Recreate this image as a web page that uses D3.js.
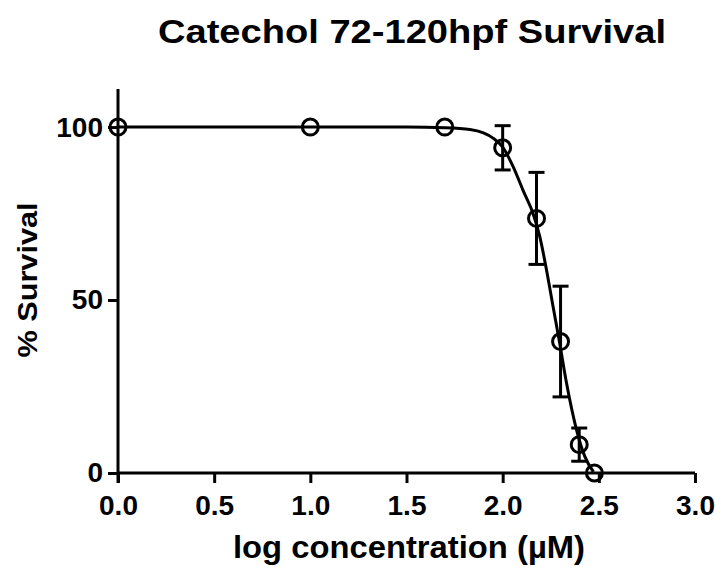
<!DOCTYPE html>
<html>
<head>
<meta charset="utf-8">
<script src="https://cdn.jsdelivr.net/npm/d3@7"></script>
<style>
  body { margin: 0; background: #fff; }
  text { font-family: "Liberation Sans", Arial, sans-serif; font-weight: bold; fill: #000; }
</style>
</head>
<body>
<div id="chart"></div>
<script>
// measured points: log10 concentration (uM) vs % survival
const logConc = [0, 1, 1.699, 2, 2.176, 2.301, 2.398, 2.477];
const survival = [100, 100, 100, 94, 73.6, 38, 8.2, 0];
const errSD = [0, 0, 0, 6.4, 13.3, 16, 4.8, 0];

// fitted curve
const fitX = [0, 1, 1.5, 1.7, 1.83, 1.9, 1.95, 2.0, 2.055, 2.106, 2.158, 2.193, 2.228, 2.262, 2.295, 2.332, 2.384, 2.427, 2.472];
const fitY = [100, 100, 100, 99.8, 99.3, 98.3, 96.8, 94.2, 88.5, 81.7, 75.0, 68.3, 58.7, 48.1, 38.0, 26.0, 12.5, 4.8, 0.3];

const xTicks = [0, 0.5, 1, 1.5, 2, 2.5, 3];
const yTicks = [0, 50, 100];

const W = 715, H = 567;
const margin = { top: 89, right: 20, bottom: 94, left: 118 };
const width = 695 - margin.left;
const height = H - margin.top - margin.bottom;

const svg = d3.select("#chart")
    .append("svg")
    .attr("width", W)
    .attr("height", H);

const g = svg.append("g")
    .attr("transform", `translate(${margin.left},${margin.top})`);

const x = d3.scaleLinear().domain([0, 3]).range([0, width]);
const y = d3.scaleLinear().domain([0, 111]).range([height, 0]);

const xAxis = g.append("g")
    .attr("transform", `translate(0,${height})`)
    .call(d3.axisBottom(x).tickValues(xTicks).tickFormat(d3.format(".1f")).tickSize(10).tickPadding(12).tickSizeOuter(0));
const yAxis = g.append("g")
    .call(d3.axisLeft(y).tickValues(yTicks).tickSize(10).tickPadding(5).tickSizeOuter(0));

[xAxis, yAxis].forEach(a => {
    a.select(".domain").attr("stroke", "#000").attr("stroke-width", 3);
    a.selectAll(".tick line").attr("stroke", "#000").attr("stroke-width", 3);
    a.selectAll(".tick text").style("font-size", "28px");
});
// y axis runs down through the x-axis tick region
yAxis.select(".domain").attr("d", `M0,0V${height + 10}`);
xAxis.select(".domain").attr("d", `M0,0H${width}`);

// fitted curve
const fit = fitX.map((v, i) => [v, fitY[i]]);
g.append("path")
    .datum(fit)
    .attr("fill", "none")
    .attr("stroke", "#000")
    .attr("stroke-width", 3)
    .attr("d", d3.line().x(d => x(d[0])).y(d => y(d[1])).curve(d3.curveMonotoneX));

const pts = logConc.map((v, i) => ({ x: v, y: survival[i], e: errSD[i] }));

// error bars
const cap = 8;
const eb = g.selectAll(".err")
    .data(pts.filter(d => d.e > 0))
    .enter()
    .append("g")
    .attr("class", "err")
    .attr("stroke", "#000")
    .attr("stroke-width", 3);
eb.append("line")
    .attr("x1", d => x(d.x)).attr("x2", d => x(d.x))
    .attr("y1", d => y(d.y + d.e)).attr("y2", d => y(d.y - d.e));
eb.append("line")
    .attr("x1", d => x(d.x) - cap).attr("x2", d => x(d.x) + cap)
    .attr("y1", d => y(d.y + d.e)).attr("y2", d => y(d.y + d.e));
eb.append("line")
    .attr("x1", d => x(d.x) - cap).attr("x2", d => x(d.x) + cap)
    .attr("y1", d => y(d.y - d.e)).attr("y2", d => y(d.y - d.e));

// open circle markers
g.selectAll(".pt")
    .data(pts)
    .enter()
    .append("circle")
    .attr("class", "pt")
    .attr("cx", d => x(d.x))
    .attr("cy", d => y(d.y))
    .attr("r", 8)
    .attr("fill", "none")
    .attr("stroke", "#000")
    .attr("stroke-width", 3);

// title and axis labels
svg.append("text")
    .attr("x", 412)
    .attr("y", 43)
    .attr("text-anchor", "middle")
    .attr("textLength", 508)
    .attr("lengthAdjust", "spacingAndGlyphs")
    .style("font-size", "33px")
    .text("Catechol 72-120hpf Survival");

svg.append("text")
    .attr("x", 409)
    .attr("y", 558)
    .attr("text-anchor", "middle")
    .attr("textLength", 352)
    .attr("lengthAdjust", "spacingAndGlyphs")
    .style("font-size", "31px")
    .text("log concentration (\u00b5M)");

svg.append("text")
    .attr("transform", `translate(37,280) rotate(-90)`)
    .attr("text-anchor", "middle")
    .attr("textLength", 155)
    .attr("lengthAdjust", "spacingAndGlyphs")
    .style("font-size", "28px")
    .text("% Survival");
</script>
</body>
</html>
